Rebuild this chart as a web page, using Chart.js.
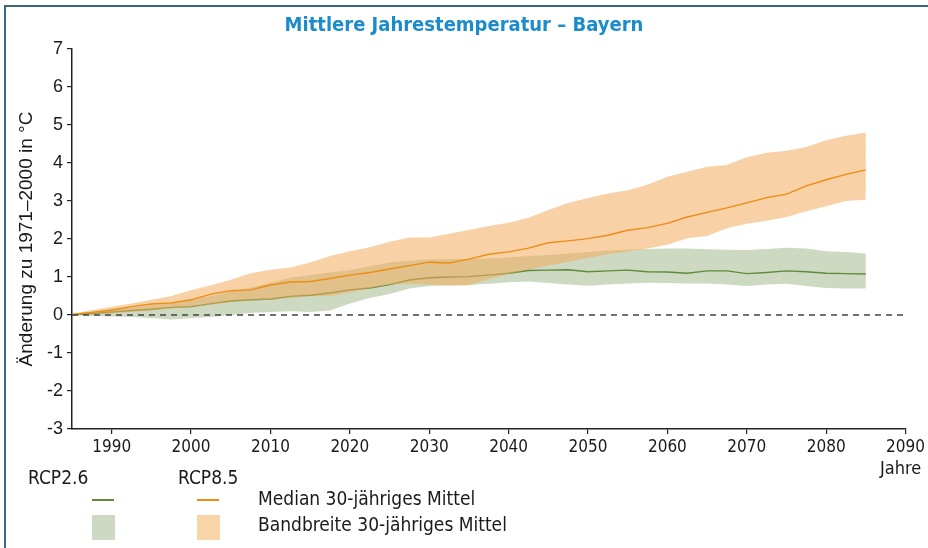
<!DOCTYPE html>
<html>
<head>
<meta charset="utf-8">
<script src="https://cdn.jsdelivr.net/npm/chart.js@4"></script>
<style>
  body { margin: 0; background: #fff; }
  #wrap { position: relative; width: 928px; height: 548px; overflow: hidden; font-family: "Liberation Sans Narrow", "DejaVu Sans Condensed", sans-serif; color: #1a1a1a; }
  #frame { position: absolute; left: 4px; top: 5px; width: 1000px; height: 600px; border-left: 2px solid #3b6683; border-top: 2px solid #3b6683; }
  #chart { position: absolute; left: 0; top: 0; }
  .t { position: absolute; white-space: nowrap; font-size: 19px; }
  #title { left: 0; width: 928px; top: 12px; text-align: center; font-weight: bold; font-size: 20px; color: #1b8ccb; }
  .mark { position: absolute; }
</style>
</head>
<body>
<div id="wrap">
  <div id="frame"></div>
  <canvas id="chart" width="928" height="548"></canvas>
  <div id="title" class="t">Mittlere Jahrestemperatur – Bayern</div>
  <div class="t" style="left:880px; top:457px; font-size:18px;">Jahre</div>
  <div class="t" style="left:28px; top:466px;">RCP2.6</div>
  <div class="t" style="left:178px; top:466px;">RCP8.5</div>
  <div class="mark" style="left:92px; top:499px; width:22px; height:2px; background:#5f8b3c;"></div>
  <div class="mark" style="left:197px; top:499px; width:22px; height:2px; background:#f08c12;"></div>
  <div class="t" style="left:258px; top:487px;">Median 30-jähriges Mittel</div>
  <div class="mark" style="left:92px; top:515px; width:23px; height:25px; background:#cdd9c0;"></div>
  <div class="mark" style="left:197px; top:515px; width:23px; height:25px; background:#f8d4a6;"></div>
  <div class="t" style="left:258px; top:513px;">Bandbreite 30-jähriges Mittel</div>
</div>
<script>
(function () {
  'use strict';

  var years = [1985, 1987.5, 1990, 1992.5, 1995, 1997.5, 2000, 2002.5, 2005, 2007.5,
    2010, 2012.5, 2015, 2017.5, 2020, 2022.5, 2025, 2027.5, 2030, 2032.5,
    2035, 2037.5, 2040, 2042.5, 2045, 2047.5, 2050, 2052.5, 2055, 2057.5,
    2060, 2062.5, 2065, 2067.5, 2070, 2072.5, 2075, 2077.5, 2080, 2082.5, 2085];

  // RCP8.5
  var rcp85Median = [0.02, 0.07, 0.13, 0.22, 0.29, 0.32, 0.40, 0.55, 0.64, 0.66,
    0.79, 0.87, 0.88, 0.96, 1.05, 1.12, 1.21, 1.30, 1.39, 1.37,
    1.47, 1.60, 1.66, 1.76, 1.90, 1.95, 2.01, 2.10, 2.23, 2.30,
    2.41, 2.58, 2.70, 2.82, 2.95, 3.09, 3.18, 3.40, 3.56, 3.70, 3.82];
  var rcp85Upper = [0.02, 0.13, 0.22, 0.30, 0.40, 0.50, 0.65, 0.78, 0.93, 1.10,
    1.19, 1.25, 1.38, 1.55, 1.68, 1.78, 1.93, 2.04, 2.04, 2.14,
    2.24, 2.34, 2.43, 2.56, 2.76, 2.95, 3.08, 3.20, 3.28, 3.43,
    3.64, 3.77, 3.90, 3.95, 4.15, 4.27, 4.32, 4.42, 4.60, 4.72, 4.80];
  var rcp85Lower = [0.00, 0.02, 0.04, 0.08, 0.12, 0.17, 0.21, 0.27, 0.34, 0.38,
    0.40, 0.45, 0.50, 0.50, 0.60, 0.70, 0.80, 0.82, 0.80, 0.77,
    0.78, 0.95, 1.08, 1.20, 1.30, 1.40, 1.50, 1.60, 1.67, 1.75,
    1.85, 2.02, 2.08, 2.28, 2.40, 2.48, 2.58, 2.73, 2.86, 3.00, 3.03];

  // RCP2.6
  var rcp26Median = [0.00, 0.04, 0.08, 0.12, 0.15, 0.20, 0.22, 0.30, 0.37, 0.40,
    0.42, 0.49, 0.52, 0.58, 0.66, 0.71, 0.80, 0.92, 0.98, 1.00,
    1.01, 1.05, 1.10, 1.17, 1.18, 1.19, 1.14, 1.16, 1.18, 1.14,
    1.13, 1.10, 1.16, 1.16, 1.09, 1.12, 1.16, 1.14, 1.10, 1.09, 1.08];
  var rcp26Upper = [0.00, 0.08, 0.15, 0.20, 0.25, 0.33, 0.40, 0.50, 0.62, 0.72,
    0.85, 0.98, 1.05, 1.12, 1.18, 1.28, 1.38, 1.43, 1.46, 1.47,
    1.48, 1.49, 1.51, 1.55, 1.58, 1.62, 1.66, 1.70, 1.72, 1.74,
    1.75, 1.75, 1.73, 1.72, 1.71, 1.74, 1.77, 1.75, 1.68, 1.66, 1.62];
  var rcp26Lower = [0.00, -0.02, -0.04, -0.05, -0.08, -0.12, -0.08, -0.05, 0.00, 0.05,
    0.08, 0.10, 0.08, 0.12, 0.30, 0.45, 0.55, 0.70, 0.76, 0.78,
    0.79, 0.82, 0.86, 0.88, 0.84, 0.80, 0.77, 0.80, 0.83, 0.85,
    0.84, 0.83, 0.83, 0.80, 0.76, 0.80, 0.82, 0.76, 0.71, 0.70, 0.70];

  var xTicks = [1990, 2000, 2010, 2020, 2030, 2040, 2050, 2060, 2070, 2080, 2090];
  var zeroLine = [1985, 2090];

  function pts(vals) {
    return years.map(function (yr, i) { return { x: yr, y: vals[i] }; });
  }

  var narrow = '"Liberation Sans Narrow", "DejaVu Sans Condensed", sans-serif';
  var regular = '"Liberation Sans", Arial, sans-serif';

  var datasets = [
    { data: pts(rcp26Lower), borderWidth: 0, pointRadius: 0, fill: false, order: 6 },
    { data: pts(rcp26Upper), borderWidth: 0, pointRadius: 0, fill: '-1', backgroundColor: '#cdd9c0', order: 5 },
    { data: pts(rcp26Median), borderColor: '#5f8b3c', borderWidth: 1.4, pointRadius: 0, fill: false, order: 4 },
    { data: pts(rcp85Lower), borderWidth: 0, pointRadius: 0, fill: false, order: 3 },
    { data: pts(rcp85Upper), borderWidth: 0, pointRadius: 0, fill: '-1', backgroundColor: 'rgba(242,172,92,0.55)', order: 2 },
    { data: pts(rcp85Median), borderColor: '#f08c12', borderWidth: 1.4, pointRadius: 0, fill: false, order: 1 },
    { data: zeroLine.map(function (x) { return { x: x, y: 0 }; }), borderColor: '#444', borderWidth: 1.3,
      borderDash: [6, 5], pointRadius: 0, fill: false, order: 0 }
  ];

  new Chart(document.getElementById('chart'), {
    type: 'line',
    data: { datasets: datasets },
    options: {
      responsive: false,
      animation: false,
      layout: { padding: { top: 49, right: 17, bottom: 89, left: 0 } },
      plugins: { legend: { display: false }, tooltip: { enabled: false }, title: { display: false } },
      elements: { line: { tension: 0 } },
      scales: {
        x: {
          type: 'linear',
          min: 1985,
          max: 2090,
          afterBuildTicks: function (scale) {
            scale.ticks = xTicks.map(function (v) { return { value: v }; });
          },
          afterFit: function (scale) { scale.height = 30; },
          grid: { drawOnChartArea: false, tickLength: 5, color: '#222', lineWidth: 1.2 },
          border: { color: '#222', width: 1.5 },
          ticks: { color: '#1a1a1a', font: { family: narrow, size: 17 }, padding: 3, maxRotation: 0,
            callback: function (v) { return String(v); } }
        },
        y: {
          min: -3,
          max: 7,
          afterFit: function (scale) { scale.width = 72; },
          grid: { drawOnChartArea: false, tickLength: 5, color: '#222', lineWidth: 1.2 },
          border: { color: '#222', width: 1.5 },
          ticks: { stepSize: 1, color: '#1a1a1a', font: { family: regular, size: 18 }, padding: 4 },
          title: { display: true, text: 'Änderung zu 1971–2000 in °C', color: '#1a1a1a',
            font: { family: regular, size: 19 }, padding: { top: 15, bottom: 0 } }
        }
      }
    }
  });
}());
</script>
</body>
</html>
